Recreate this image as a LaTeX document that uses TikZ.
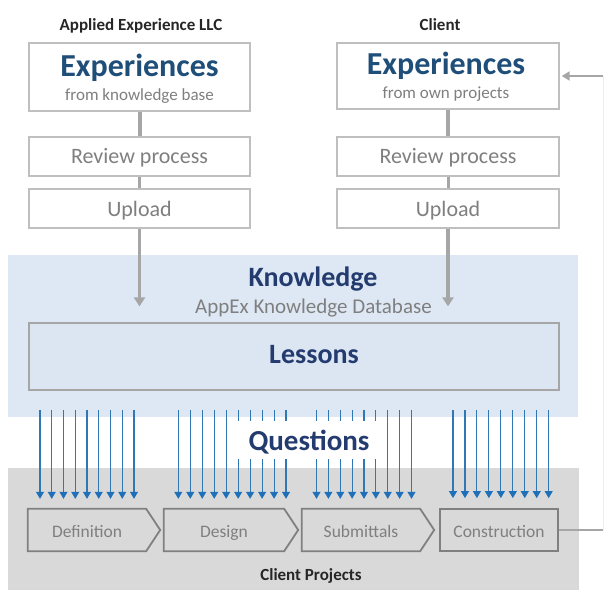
\documentclass[tikz,border=0pt]{standalone}
\usepackage{fontspec}
\setmainfont{Carlito}
\usetikzlibrary{arrows.meta}
\definecolor{expblue}{HTML}{1F4E79}
\definecolor{navy}{HTML}{233B6E}
\definecolor{txtgray}{HTML}{7F7F7F}
\definecolor{boxgray}{HTML}{BFBFBF}
\definecolor{conngray}{HTML}{A6A6A6}
\definecolor{faintgray}{HTML}{EDEDED}
\definecolor{bandblue}{HTML}{DEE8F4}
\definecolor{lessonfill}{HTML}{DCE6F2}
\definecolor{bandgray}{HTML}{D9D9D9}
\definecolor{chevgray}{HTML}{808080}
\definecolor{qline}{HTML}{2F78B4}
\definecolor{qhead}{HTML}{1F70B8}
\definecolor{darktxt}{HTML}{262626}
\newcommand{\myfs}[1]{\fontsize{#1}{#1}\selectfont}
\begin{document}
\begin{tikzpicture}[x=1pt,y=-1pt,
  box/.style={draw=boxgray, line width=1.4pt, fill=white, minimum width=221pt, inner sep=0pt},
  band/.style={inner sep=0pt, draw=none},
  lbl/.style={anchor=base, inner sep=0pt},
  head/.style={lbl, font=\myfs{17}\bfseries, text=darktxt},
  bigexp/.style={lbl, font=\myfs{32}\bfseries, text=expblue},
  subexp/.style={lbl, font=\myfs{17}, text=txtgray},
  steptxt/.style={lbl, font=\myfs{22}, text=txtgray},
  navytxt/.style={lbl, font=\myfs{28}\bfseries, text=navy},
  chevbody/.style={draw=none, minimum height=42pt, inner sep=0pt, text height=16pt, text depth=2pt, font=\myfs{17.5}, text=txtgray},
  chevline/.style={draw=chevgray, line width=1.8pt, line join=miter},
  conn/.style={draw=conngray, line width=4pt},
  connthin/.style={draw=conngray, line width=3pt},
  connarr/.style={draw=conngray, line width=3.5pt, -{Triangle[width=11pt,length=9pt]}},
  fbline/.style={draw=conngray, line width=2pt},
  fbfaint/.style={draw=faintgray, line width=1pt},
  qarr/.style={draw=qline, line width=1.1pt, -{Triangle[width=8pt,length=7pt,color=qhead]}}
]
\useasboundingbox (0,0) rectangle (606,592);
\fill[white] (0,0) rectangle (606,592);

% bands
\node[band, fill=bandblue, minimum width=570pt, minimum height=162pt] (know) at (293,336) {};
\node[band, fill=bandgray, minimum width=571pt, minimum height=122pt] (proj) at (293.5,529) {};

% column headers
\node[head] (hl) at (141,30) {Applied Experience LLC};
\node[head] (hr) at (440,30) {Client};

% left column
\node[box, minimum height=68pt] (exp1) at (139.5,77) {};
\node[box, minimum height=39pt] (rev1) at (139.5,156.5) {};
\node[box, minimum height=39pt] (upl1) at (139.5,208.5) {};
\node[bigexp] (exp1t) at (139.5,76) {Experiences};
\node[subexp] (exp1s) at (139.5,100) {from knowledge base};
\node[steptxt] (rev1t) at (139.5,163) {Review process};
\node[steptxt] (upl1t) at (139.5,216) {Upload};

% right column
\node[box, minimum height=66pt, minimum width=222pt] (exp2) at (448,76) {};
\node[box, minimum height=39pt, minimum width=222pt] (rev2) at (448,156.5) {};
\node[box, minimum height=39pt, minimum width=222pt] (upl2) at (448,208.5) {};
\node[bigexp] (exp2t) at (446,74) {Experiences};
\node[subexp] (exp2s) at (446,98) {from own projects};
\node[steptxt] (rev2t) at (448,163) {Review process};
\node[steptxt] (upl2t) at (448,216) {Upload};

% connectors
\draw[conn] (exp1.south) -- (rev1.north);
\draw[connthin] (rev1.south) -- (upl1.north);
\draw[conn] (exp2.south) -- (rev2.north);
\draw[connthin] (rev2.south) -- (upl2.north);

% knowledge
\node[navytxt] (knowt) at (313,286) {Knowledge};
\node[lbl, font=\myfs{21}, text=txtgray] (appex) at (313.5,313) {AppEx Knowledge Database};
\node[draw=conngray, line width=1.2pt, fill=lessonfill, minimum width=530pt, minimum height=67pt, inner sep=0pt] (lessons) at (294,356.5) {};
\node[navytxt] (lessonst) at (314,363) {Lessons};

\draw[connarr] (upl1.south) -- ([yshift=16pt]lessons.north -| upl1.south);
\draw[connarr] (upl2.south) -- ([yshift=16pt]lessons.north -| upl2.south);

% project phases
\node[chevbody, minimum width=118pt] (def) at (87,530) {Definition};
\node[chevbody, minimum width=120pt] (des) at (224,530) {Design};
\node[chevbody, minimum width=118pt] (sub) at (361,530) {Submittals};
\node[chevbody, minimum width=118pt, draw=chevgray, line width=1.8pt] (con) at (499,530) {Construction};
\foreach \c in {def,des,sub} {
  \draw[chevline] (\c.north west) -- (\c.north east) -- ([xshift=14pt]\c.east) -- (\c.south east) -- (\c.south west) -- cycle;
}
\node[lbl, font=\myfs{17}\bfseries, text=darktxt] (projt) at (311,580) {Client Projects};

% question arrows
\foreach \i in {0,...,8} {
  \coordinate (qa) at (40+11.75*\i,0);
  \draw[qarr] ([yshift=7pt]know.south -| qa) -- ([yshift=10pt]def.north -| qa);
}
\foreach \i in {0,...,9} {
  \coordinate (qb) at (178.3+11.97*\i,0);
  \draw[qarr] ([yshift=7pt]know.south -| qb) -- ([yshift=10pt]des.north -| qb);
}
\foreach \i in {0,...,8} {
  \coordinate (qc) at (316.5+11.875*\i,0);
  \draw[qarr] ([yshift=7pt]know.south -| qc) -- ([yshift=10pt]sub.north -| qc);
}
\foreach \i in {0,...,8} {
  \coordinate (qd) at (453+11.96*\i,0);
  \draw[qarr] ([yshift=7pt]know.south -| qd) -- ([yshift=10pt]con.north -| qd);
}
\node[fill=white, font=\myfs{29}\bfseries, text=navy, minimum width=149pt, text height=20pt, text depth=0pt, inner ysep=9pt, inner xsep=0pt] (quest) at (309,440) {Questions};

% feedback loop
\coordinate (fb1) at (603,530);
\coordinate (fb2) at (603,76);
\draw[fbline] (con.east) -- (fb1);
\draw[fbfaint] (fb1) -- (fb2);
\draw[fbline, -{Triangle[width=9pt,length=8pt]}, shorten >=2pt] (fb2) -- (exp2.east);
\end{tikzpicture}
\end{document}
